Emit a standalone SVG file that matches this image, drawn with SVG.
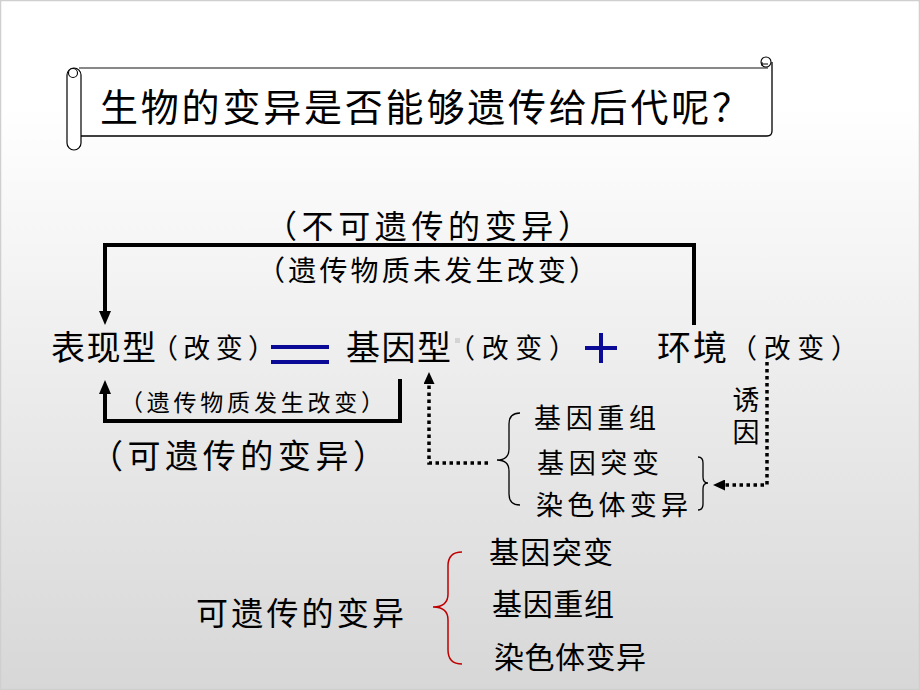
<svg xmlns="http://www.w3.org/2000/svg" width="920" height="690" viewBox="0 0 920 690">
<defs>
<linearGradient id="bg" x1="0" y1="0" x2="0" y2="1">
<stop offset="0" stop-color="#ffffff"/>
<stop offset="0.15" stop-color="#ffffff"/>
<stop offset="1" stop-color="#d7d7d7"/>
</linearGradient>
<marker id="ah" viewBox="0 0 14 12" refX="6" refY="6" markerWidth="14" markerHeight="12" orient="auto" markerUnits="userSpaceOnUse">
<path d="M0,0 L14,6 L0,12 Z" fill="#000"/>
</marker>
<marker id="ahd" viewBox="0 0 12 11" refX="4" refY="5.5" markerWidth="12" markerHeight="11" orient="auto" markerUnits="userSpaceOnUse">
<path d="M0,0 L12,5.5 L0,11 Z" fill="#000"/>
</marker>
</defs>
<style>
text{font-family:"Noto Sans CJK SC","Noto Sans CJK JP",sans-serif;fill:#000}
.big{font-size:34px}
.mid{font-size:30px}
.sm{font-size:27px}
.xs{font-size:23px}
.line{fill:none;stroke:#000;stroke-width:4}
.dot{fill:none;stroke:#000;stroke-width:3.5;stroke-dasharray:3.5 3.5}
.brace{fill:none;stroke:#000;stroke-width:1.3}
.blue{stroke:#0a0a96;stroke-width:4;fill:none}
</style>
<rect x="0.5" y="0.5" width="919" height="689" fill="url(#bg)" stroke="#cfcfcf" stroke-width="1.5"/>

<g id="title">
<path d="M79,68 H768" stroke="#888" stroke-width="2" fill="none"/>
<rect x="81" y="69" width="690" height="66" fill="#fff"/>
<path d="M772,62 V131 Q772,136 767,136 H81" stroke="#000" stroke-width="1.3" fill="none"/>
<circle cx="766" cy="62" r="5" fill="#fff" stroke="#000" stroke-width="1.1"/>
<path d="M762,66 V62 M762,64 H768" stroke="#000" stroke-width="1" fill="none"/>
<rect x="67" y="68" width="14" height="82" rx="7" fill="#fff" stroke="#000" stroke-width="1.2"/>
<circle cx="73" cy="73" r="4.5" fill="#fff" stroke="#000" stroke-width="1.1"/>
<text x="100" y="121" style="font-size:38px" textLength="650">生物的变异是否能够遗传给后代呢？</text>
</g>

<g id="connectors">
<path class="line" d="M694,325 V245 H105 V317" marker-end="url(#ah)"/>
<path class="line" d="M400,379 V421 H105 V388" marker-end="url(#ah)"/>
<path class="dot" d="M488,463 H429 V380" marker-end="url(#ahd)"/>
<path class="dot" d="M767,362 V485 H721" marker-end="url(#ahd)"/>
</g>

<g id="label-nonheritable">
<text style="font-size:32px" x="265" y="238" textLength="325">（不可遗传的变异）</text>
<text style="font-size:28px" x="257" y="281" textLength="340">（遗传物质未发生改变）</text>
</g>

<g id="node-phenotype">
<text class="big" x="51" y="360" textLength="105">表现型</text>
<text class="sm" x="151" y="358" textLength="124">（改变）</text>
</g>

<g id="equals">
<path class="blue" d="M271,347 H329 M271,362 H329"/>
</g>

<g id="node-genotype">
<text class="big" x="346" y="360" textLength="105">基因型</text>
<rect x="455" y="338" width="5" height="5" fill="#d4d4d4"/>
<text class="sm" x="448" y="358" textLength="128">（改变）</text>
</g>

<g id="plus">
<path class="blue" d="M585,348 H617 M601,333 V363"/>
</g>

<g id="node-environment">
<text class="big" x="657" y="360" textLength="70">环境</text>
<text class="sm" x="730" y="358" textLength="128">（改变）</text>
</g>

<g id="label-heritable">
<text class="xs" x="120" y="411" textLength="264">（遗传物质发生改变）</text>
<text style="font-size:33px" x="90" y="468" textLength="296">（可遗传的变异）</text>
</g>

<g id="sources">
<path class="brace" d="M520,413 Q509,413 509,424 V449 Q509,460 497,460 Q509,460 509,471 V494 Q509,505 520,505"/>
<text class="sm" x="534" y="428" textLength="122">基因重组</text>
<text class="sm" x="537" y="473" textLength="122">基因突变</text>
<text class="sm" x="536" y="515" textLength="152">染色体变异</text>
<path class="brace" d="M698,457 Q703,457 703,463 V477 Q703,483 708,483 Q703,483 703,489 V504 Q703,510 698,510"/>
</g>

<g id="inducer">
<text class="sm" x="746" y="386" style="writing-mode:vertical-rl;letter-spacing:5px">诱因</text>
</g>

<g id="summary">
<text style="font-size:32px" x="196" y="625" textLength="208">可遗传的变异</text>
<path d="M462,552 Q448,552 448,566 V594 Q448,607 433,607 Q448,607 448,620 V650 Q448,664 462,664" fill="none" stroke="#c00000" stroke-width="1.5"/>
<text class="mid" x="489" y="563" textLength="124">基因突变</text>
<text class="mid" x="492" y="615" textLength="122">基因重组</text>
<text class="mid" x="494" y="668" textLength="152">染色体变异</text>
</g>
</svg>
